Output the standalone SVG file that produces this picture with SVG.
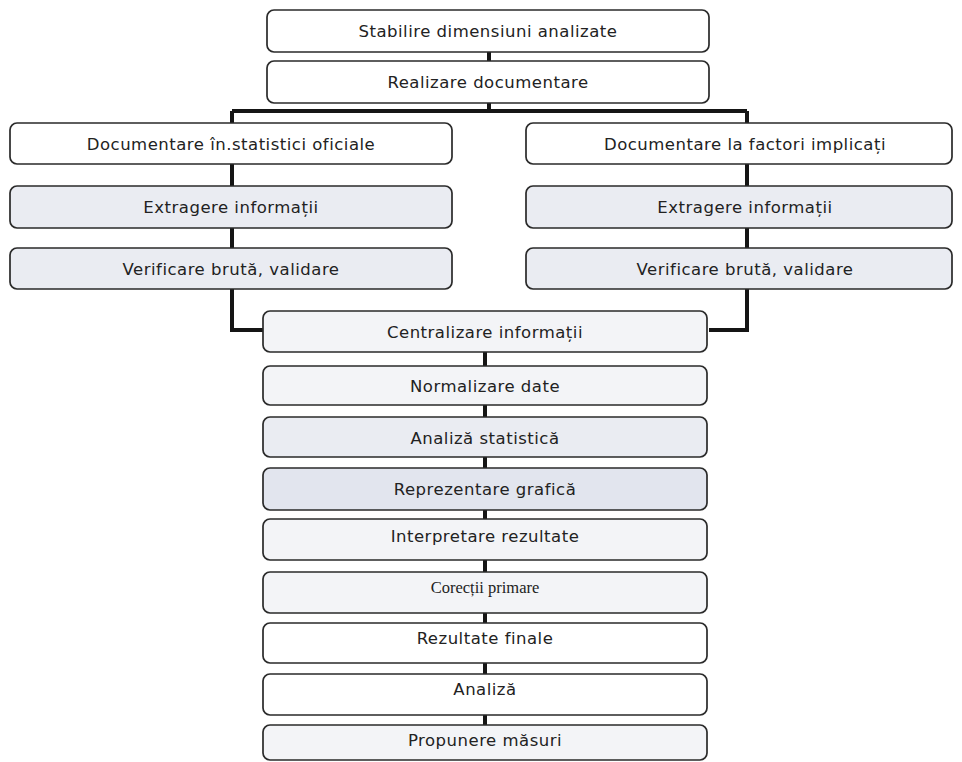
<svg xmlns="http://www.w3.org/2000/svg" width="962" height="762" viewBox="0 0 962 762">
<style>
.box{stroke:#2a2a2a;stroke-width:1.7}
.w{fill:#ffffff}
.l{fill:#f3f4f7}
.s{fill:#eaecf2}
.d{fill:#e2e5ee}
.t{font-family:"DejaVu Sans",Verdana,sans-serif;font-size:16.5px;letter-spacing:0.5px;fill:#222;text-anchor:middle}
.ts{font-family:"Liberation Serif","Times New Roman",serif;font-size:16.5px;fill:#222;text-anchor:middle}
.c{stroke:#151515;stroke-width:4;fill:none}
</style>
<rect width="962" height="762" fill="#ffffff"/>
<g id="connectors">
<path class="c" d="M489 52V61M489 103V111M232 111H747M232 111V330H263M747 111V330H709"/>
<path class="c" d="M485 352V366M485 405V417M485 457V468M485 510V519M485 560V572M485 613V623M485 663V674M485 715V725"/>
</g>
<g id="n1"><rect class="box w" x="267" y="10" width="442" height="42" rx="7"/><text class="t" x="488" y="37">Stabilire dimensiuni analizate</text></g>
<g id="n2"><rect class="box w" x="267" y="61" width="442" height="42" rx="7"/><text class="t" x="488" y="88">Realizare documentare</text></g>
<g id="l1"><rect class="box w" x="10" y="123" width="442" height="41" rx="7"/><text class="t" x="231" y="150">Documentare în.statistici oficiale</text></g>
<g id="l2"><rect class="box s" x="10" y="186" width="442" height="42" rx="7"/><text class="t" x="231" y="213">Extragere informații</text></g>
<g id="l3"><rect class="box s" x="10" y="248" width="442" height="41" rx="7"/><text class="t" x="231" y="275">Verificare brută, validare</text></g>
<g id="r1"><rect class="box w" x="526" y="123" width="426" height="41" rx="7"/><text class="t" x="745" y="150">Documentare la factori implicați</text></g>
<g id="r2"><rect class="box s" x="526" y="186" width="426" height="42" rx="7"/><text class="t" x="745" y="213">Extragere informații</text></g>
<g id="r3"><rect class="box s" x="526" y="248" width="426" height="41" rx="7"/><text class="t" x="745" y="275">Verificare brută, validare</text></g>
<g id="c1"><rect class="box l" x="263" y="311" width="444" height="41" rx="7"/><text class="t" x="485" y="338">Centralizare informații</text></g>
<g id="c2"><rect class="box l" x="263" y="366" width="444" height="39" rx="7"/><text class="t" x="485" y="392">Normalizare date</text></g>
<g id="c3"><rect class="box s" x="263" y="417" width="444" height="40" rx="7"/><text class="t" x="485" y="444">Analiză statistică</text></g>
<g id="c4"><rect class="box d" x="263" y="468" width="444" height="42" rx="7"/><text class="t" x="485" y="495">Reprezentare grafică</text></g>
<g id="c5"><rect class="box l" x="263" y="519" width="444" height="41" rx="7"/><text class="t" x="485" y="542">Interpretare rezultate</text></g>
<g id="c6"><rect class="box l" x="263" y="572" width="444" height="41" rx="7"/><text class="ts" x="485" y="593">Corecții primare</text></g>
<g id="c7"><rect class="box w" x="263" y="623" width="444" height="40" rx="7"/><text class="t" x="485" y="644">Rezultate finale</text></g>
<g id="c8"><rect class="box w" x="263" y="674" width="444" height="41" rx="7"/><text class="t" x="485" y="695">Analiză</text></g>
<g id="c9"><rect class="box l" x="263" y="725" width="444" height="35" rx="7"/><text class="t" x="485" y="746">Propunere măsuri</text></g>
</svg>
